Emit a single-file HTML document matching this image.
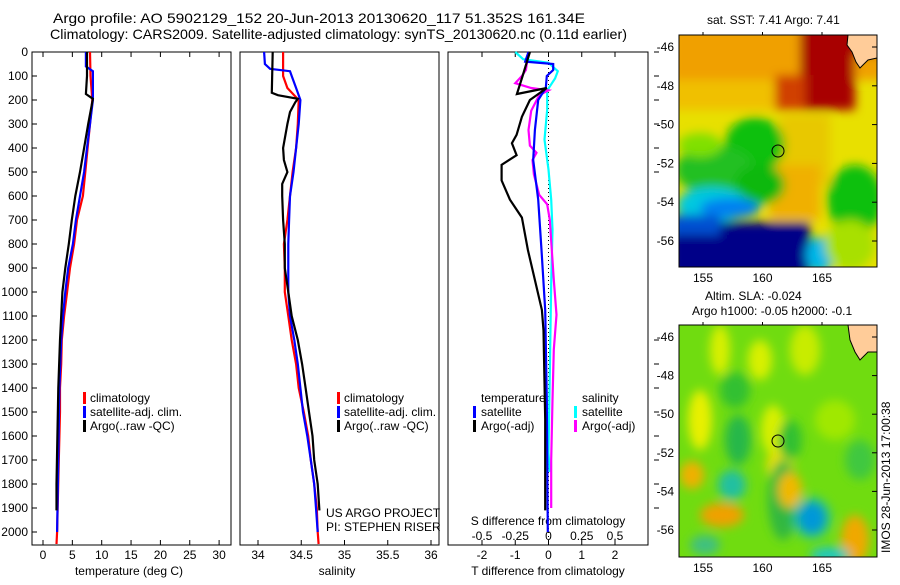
<!DOCTYPE html>
<html><head><meta charset="utf-8"><style>
html,body{margin:0;padding:0;background:#fff;}
svg text{font-family:"Liberation Sans",sans-serif;font-size:12px;fill:#000;}
</style></head><body>
<svg id="fig" width="900" height="580" viewBox="0 0 900 580" xmlns="http://www.w3.org/2000/svg">
<defs>
<filter id="blur1" x="-20%" y="-20%" width="140%" height="140%"><feGaussianBlur stdDeviation="5"/></filter>
<clipPath id="clipA"><rect x="679" y="35" width="198" height="232"/></clipPath>
<clipPath id="clipB"><rect x="679" y="325" width="198" height="232"/></clipPath>
</defs>
<text x="53" y="23" style="font-size:14px" textLength="532" lengthAdjust="spacingAndGlyphs">Argo profile: AO 5902129_152 20-Jun-2013 20130620_117 51.352S 161.34E</text>
<text x="50" y="39" style="font-size:14px" textLength="577" lengthAdjust="spacingAndGlyphs">Climatology: CARS2009. Satellite-adjusted climatology: synTS_20130620.nc (0.11d earlier)</text>

<!-- SST map -->
<g>
<text x="707" y="24">sat. SST: 7.41 Argo: 7.41</text>
<g clip-path="url(#clipA)">
<rect x="679" y="35" width="198" height="232" fill="#e8e000"/>
<g filter="url(#blur1)">
<rect x="670" y="25" width="215" height="55" fill="#f0a000"/>
<rect x="670" y="80" width="130" height="30" fill="#f0c000"/>
<rect x="800" y="25" width="55" height="85" fill="#a80000"/>
<rect x="840" y="25" width="45" height="30" fill="#a80000"/>
<rect x="775" y="75" width="30" height="35" fill="#d04000"/>
<rect x="780" y="115" width="50" height="70" fill="#e8c800"/>
<rect x="770" y="165" width="50" height="55" fill="#f0b000"/>
<ellipse cx="755" cy="145" rx="30" ry="28" fill="#10c010"/>
<ellipse cx="715" cy="170" rx="40" ry="25" fill="#20c020"/>
<ellipse cx="760" cy="185" rx="25" ry="20" fill="#10b810"/>
<ellipse cx="700" cy="145" rx="22" ry="12" fill="#80e000"/>
<ellipse cx="855" cy="200" rx="28" ry="35" fill="#10c010"/>
<ellipse cx="712" cy="205" rx="35" ry="18" fill="#00c8e0"/>
<ellipse cx="730" cy="208" rx="30" ry="10" fill="#0080f0"/>
<rect x="670" y="222" width="140" height="55" fill="#000088"/>
<rect x="670" y="215" width="50" height="20" fill="#0050d0"/>
<ellipse cx="820" cy="255" rx="14" ry="18" fill="#00b8e8"/>
<ellipse cx="850" cy="245" rx="25" ry="25" fill="#a8e000"/>
</g>
<path d="M848 35 L877 35 L877 58 L868 60 L860 68 L856 62 L852 52 L847 45 Z" fill="#ffcc99" stroke="#000" stroke-width="1"/>
<circle cx="778" cy="151" r="6" fill="none" stroke="#000"/>
</g>
<rect x="679" y="35" width="198" height="232" fill="none" stroke="#000"/>
</g>

<!-- SLA map -->
<g>
<text x="705" y="300">Altim. SLA: -0.024</text>
<text x="692" y="315">Argo h1000: -0.05 h2000: -0.1</text>
<g clip-path="url(#clipB)">
<rect x="679" y="325" width="198" height="232" fill="#70dc10"/>
<g filter="url(#blur1)">
<ellipse cx="720" cy="350" rx="10" ry="25" fill="#d8f000"/>
<ellipse cx="760" cy="360" rx="12" ry="20" fill="#d8f000"/>
<ellipse cx="805" cy="350" rx="15" ry="25" fill="#c8ec00"/>
<ellipse cx="735" cy="390" rx="15" ry="18" fill="#30c030"/>
<ellipse cx="738" cy="440" rx="13" ry="25" fill="#28b848"/>
<ellipse cx="700" cy="420" rx="12" ry="30" fill="#e8f000"/>
<ellipse cx="773" cy="430" rx="12" ry="25" fill="#d8f000"/>
<ellipse cx="780" cy="465" rx="14" ry="15" fill="#e8e000"/>
<ellipse cx="732" cy="485" rx="14" ry="15" fill="#20c0a0"/>
<ellipse cx="692" cy="475" rx="12" ry="14" fill="#f0b000"/>
<ellipse cx="722" cy="515" rx="22" ry="12" fill="#f0a000"/>
<ellipse cx="783" cy="500" rx="15" ry="40" fill="#30b840"/>
<ellipse cx="790" cy="440" rx="12" ry="20" fill="#30c030"/>
<ellipse cx="790" cy="490" rx="12" ry="18" fill="#f0b800"/>
<ellipse cx="812" cy="518" rx="14" ry="16" fill="#0070e0"/>
<ellipse cx="812" cy="518" rx="20" ry="22" fill="#00c0d0" opacity="0.5"/>
<ellipse cx="855" cy="540" rx="14" ry="25" fill="#f0a800"/>
<ellipse cx="835" cy="420" rx="20" ry="20" fill="#a0e800"/>
<ellipse cx="860" cy="460" rx="15" ry="20" fill="#40c840"/>
<ellipse cx="705" cy="545" rx="15" ry="10" fill="#40c080"/>
<ellipse cx="830" cy="555" rx="20" ry="8" fill="#20c8c0"/>
</g>
<path d="M848 325 L877 325 L877 352 L868 352 L860 360 L855 352 L850 340 Z" fill="#ffcc99" stroke="#000" stroke-width="1"/>
<circle cx="778" cy="441" r="6" fill="none" stroke="#000"/>
</g>
<rect x="679" y="325" width="198" height="232" fill="none" stroke="#000"/>
<text transform="translate(890,553) rotate(-90)" font-size="12">IMOS 28-Jun-2013 17:00:38</text>
</g>

<g id="panels"></g>
</svg>
<script>
// ---- data ----
const tempDepth = [0,100,200,300,400,500,600,700,800,900,1000,1100,1200,1300,1400,1500,1700,2000,2050];
const tempClim = [8.0,8.1,8.4,8.0,7.6,7.2,6.8,5.8,5.3,4.6,4.1,3.6,3.2,3.1,2.9,2.9,2.7,2.4,2.3];
const tempSatDepth = [0,60,80,200,300,400,500,600,700,800,900,1000,1100,1200,1400,1700,2000];
const tempSat = [7.3,7.3,8.5,8.5,8.0,7.5,7.0,6.3,5.6,5.1,4.3,3.8,3.4,3.1,2.8,2.6,2.4];
const tempArgoDepth = [0,100,175,195,300,400,500,600,700,800,900,1000,1200,1400,1800,1910];
const tempArgo = [7.5,7.5,7.3,8.5,7.7,7.0,6.3,5.5,4.9,4.4,3.8,3.3,2.9,2.6,2.3,2.3];

const salDepth = [0,100,150,200,300,400,500,600,700,800,900,1000,1100,1200,1300,1400,1500,1600,1700,1800,1900,2000,2050];
const salClim = [34.29,34.29,34.34,34.47,34.46,34.44,34.40,34.37,34.34,34.30,34.31,34.31,34.35,34.39,34.44,34.47,34.53,34.58,34.61,34.65,34.68,34.69,34.70];
const salSatDepth = [0,50,70,80,100,150,200,300,400,500,600,700,800,1000,1100,1200,1300,1400,1500,1600,1700,1800,1900,2000];
const salSat = [34.07,34.08,34.14,34.37,34.39,34.44,34.49,34.47,34.44,34.41,34.37,34.36,34.35,34.35,34.37,34.42,34.46,34.49,34.52,34.57,34.61,34.65,34.67,34.69];
const salArgoDepth = [0,170,180,195,210,250,300,400,450,500,550,600,700,800,900,1000,1100,1200,1300,1400,1500,1600,1700,1800,1910];
const salArgo = [34.17,34.16,34.23,34.46,34.43,34.37,34.34,34.29,34.30,34.34,34.28,34.28,34.29,34.31,34.31,34.35,34.39,34.46,34.51,34.55,34.59,34.63,34.65,34.69,34.71];

const dTArgoDepth = [0,100,175,150,200,270,345,380,430,470,535,615,690,825,950,1075,1160,1530,1910];
const dTArgo = [-0.56,-0.78,-0.95,-0.05,-0.56,-0.8,-0.96,-1.1,-0.96,-1.41,-1.41,-1.16,-0.8,-0.62,-0.41,-0.2,-0.15,-0.1,-0.1];
const dTSatDepth = [0,40,50,75,100,150,200,325,450,615,825,1075,1450,2000];
const dTSat = [-0.6,-0.7,0.14,0.14,-0.05,-0.08,-0.31,-0.41,-0.46,-0.31,-0.21,-0.1,-0.05,-0.02];
const dSSatDepth = [0,30,45,80,110,160,240,365,490,615,740,960,1340,1670,1750];
const dSSat = [-0.25,-0.19,0.0,0.07,0.05,-0.01,-0.01,-0.03,0.0,0.02,0.03,0.02,0.01,0.0,0.01];
const dSArgoDepth = [0,75,100,130,150,160,180,245,325,390,420,450,510,595,635,700,950,1095,1240,1450,1700,1900];
const dSArgo = [-0.15,-0.17,-0.2,-0.25,-0.13,0.0,-0.07,-0.13,-0.15,-0.14,-0.09,-0.12,-0.11,-0.07,-0.01,0.01,0.04,0.06,0.04,0.03,0.02,0.02];

const depthTicks = [0,100,200,300,400,500,600,700,800,900,1000,1100,1200,1300,1400,1500,1600,1700,1800,1900,2000];
const tempTicks = [0,5,10,15,20,25,30];
const salTicks = [34,34.5,35,35.5,36];
const salTickLabels = ["34","34.5","35","35.5","36"];
const dTTicks = [-2,-1,0,1,2];
const dSTicks = [-0.5,-0.25,0,0.25,0.5];
const dSTickLabels = ["-0.5","-0.25","0","0.25","0.5"];
const latTicks = [-46,-48,-50,-52,-54,-56];
const lonTicks = [155,160,165];

// ---- axes ----
const NS="http://www.w3.org/2000/svg";
const yTop=52, yBot=545;
const yD = d => yTop + d*0.24;
const xT = t => 43 + 5.87*t;
const xS = s => 258 + 86.5*(s-34);
const xdT = v => 548.5 + 33.25*v;
const xdS = v => 548.5 + 133*v;
const latY1 = lat => 47 + (-46-lat)*19.4;
const latY2 = lat => 337 + (-46-lat)*19.3;
const lonX = lon => 703 + (lon-155)*11.9;

const g=document.getElementById('panels');
function el(tag,attrs,parent){const e=document.createElementNS(NS,tag);for(const k in attrs)e.setAttribute(k,attrs[k]);(parent||g).appendChild(e);return e;}
function txt(x,y,s,anchor,parent){const t=el('text',{x:x,y:y,'text-anchor':anchor||'start'},parent);t.textContent=s;return t;}

function stepPath(xs,ds,xf){
  let d='';
  for(let i=0;i<xs.length;i++){
    const x=xf(xs[i]).toFixed(1), y=yD(ds[i]).toFixed(1);
    d+=(i?'L':'M')+x+' '+y;
  }
  return d;
}
function series(xs,ds,xf,color,name,parent){
  const p=el('path',{d:stepPath(xs,ds,xf),fill:'none',stroke:color,'stroke-width':2.2,'stroke-linejoin':'miter'},parent);
  
  
}
function legendBar(x,y,color,parent){el('rect',{x:x,y:y-10,width:3,height:12,fill:color},parent);}

// Panel 1
const p1=el('g',{});


el('rect',{x:32,y:yTop,width:199,height:yBot-yTop,fill:'none',stroke:'#000'},p1);
depthTicks.forEach(d=>{
  el('line',{x1:32,x2:37,y1:yD(d),y2:yD(d),stroke:'#000'},p1);
  const t=txt(28,yD(d)+4,String(d),'end',p1);
  
  
});
tempTicks.forEach(v=>{
  el('line',{x1:xT(v),x2:xT(v),y1:yTop,y2:yTop+5,stroke:'#000'},p1);
  el('line',{x1:xT(v),x2:xT(v),y1:yBot,y2:yBot-5,stroke:'#000'},p1);
  const t=txt(xT(v),559,String(v),'middle',p1);
  
  
});
const xt1=txt(129,575,'temperature (deg C)','middle',p1);


series(tempClim,tempDepth,xT,'#f00','temp-climatology-line',p1);
series(tempSat,tempSatDepth,xT,'#00f','temp-satellite-line',p1);
series(tempArgo,tempArgoDepth,xT,'#000','temp-argo-line',p1);
const lg1=el('g',{},p1);


legendBar(83,402,'#f00',lg1);txt(90,402,'climatology','start',lg1);
legendBar(83,416,'#00f',lg1);txt(90,416,'satellite-adj. clim.','start',lg1);
legendBar(83,430,'#000',lg1);txt(90,430,'Argo(..raw -QC)','start',lg1);

// Panel 2
const p2=el('g',{});


el('rect',{x:240,y:yTop,width:199,height:yBot-yTop,fill:'none',stroke:'#000'},p2);
salTicks.forEach((v,i)=>{
  el('line',{x1:xS(v),x2:xS(v),y1:yBot,y2:yBot-5,stroke:'#000'},p2);
  const t=txt(xS(v),559,salTickLabels[i],'middle',p2);
  
  
});
const xt2=txt(337,575,'salinity','middle',p2);


series(salClim,salDepth,xS,'#f00','sal-climatology-line',p2);
series(salSat,salSatDepth,xS,'#00f','sal-satellite-line',p2);
series(salArgo,salArgoDepth,xS,'#000','sal-argo-line',p2);
const lg2=el('g',{},p2);


legendBar(337,402,'#f00',lg2);txt(344,402,'climatology','start',lg2);
legendBar(337,416,'#00f',lg2);txt(344,416,'satellite-adj. clim.','start',lg2);
legendBar(337,430,'#000',lg2);txt(344,430,'Argo(..raw -QC)','start',lg2);
const pi1=txt(326,517,'US ARGO PROJECT','start',p2);


const pi2=txt(326,531,'PI: STEPHEN RISER','start',p2);



// Panel 3
const p3=el('g',{});


el('rect',{x:448,y:yTop,width:200,height:yBot-yTop,fill:'none',stroke:'#000'},p3);
el('line',{x1:xdT(0),x2:xdT(0),y1:yTop,y2:yBot,stroke:'#000','stroke-dasharray':'1,3'},p3);
dTTicks.forEach(v=>{
  el('line',{x1:xdT(v),x2:xdT(v),y1:yBot,y2:yBot-5,stroke:'#000'},p3);
  const t=txt(xdT(v),559,String(v),'middle',p3);
  
  
});
dSTicks.forEach((v,i)=>{
  el('line',{x1:xdS(v),x2:xdS(v),y1:yTop,y2:yTop+5,stroke:'#000'},p3);
  const t=txt(xdS(v),540,dSTickLabels[i],'middle',p3);
  
  
});
depthTicks.forEach(d=>{ if(d<=500||(d>=1200&&d<=1900)) el('line',{x1:654,x2:659,y1:yD(d),y2:yD(d),stroke:'#000'},p3); });
const st=txt(548,525,'S difference from climatology','middle',p3);


const tt=txt(548,575,'T difference from climatology','middle',p3);


series(dSSat,dSSatDepth,xdS,'#00ffff','sdiff-satellite-line',p3);
series(dSArgo,dSArgoDepth,xdS,'#ff00ff','sdiff-argo-line',p3);
series(dTSat,dTSatDepth,xdT,'#00f','tdiff-satellite-line',p3);
series(dTArgo,dTArgoDepth,xdT,'#000','tdiff-argo-line',p3);
const lg3=el('g',{},p3);


txt(481,402,'temperature','start',lg3);
legendBar(473,416,'#00f',lg3);txt(481,416,'satellite','start',lg3);
legendBar(473,430,'#000',lg3);txt(481,430,'Argo(-adj)','start',lg3);
txt(582,402,'salinity','start',lg3);
legendBar(574,416,'#00ffff',lg3);txt(582,416,'satellite','start',lg3);
legendBar(574,430,'#ff00ff',lg3);txt(582,430,'Argo(-adj)','start',lg3);

// Map axes
[[latY1,35,267],[latY2,325,557]].forEach(([f,y0,y1])=>{
  latTicks.forEach(v=>{
    el('line',{x1:872,x2:877,y1:f(v),y2:f(v),stroke:'#000'});
    const t=txt(674,f(v)+4,String(v),'end');
    
    
  });
  lonTicks.forEach(v=>{
    el('line',{x1:lonX(v),x2:lonX(v),y1:y0-3,y2:y0,stroke:'#000'});
    const t=txt(lonX(v),y1+15,String(v),'middle');
    
    
  });
});
</script>
</body></html>
